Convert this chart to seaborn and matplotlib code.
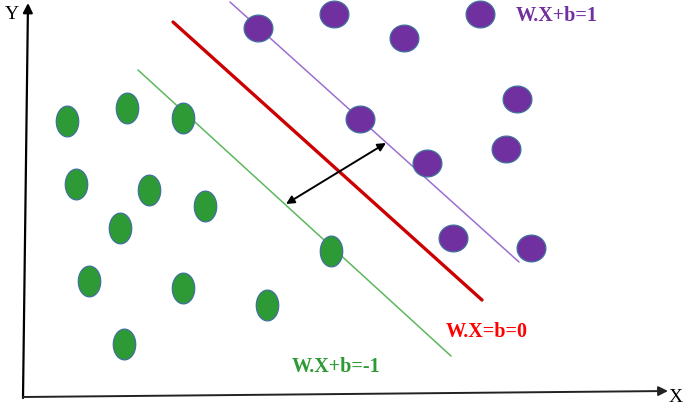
import numpy as np
import pandas as pd
import matplotlib
matplotlib.use("Agg")
import matplotlib.pyplot as plt
from matplotlib.path import Path
import seaborn as sns

# --- data (positions in the diagram's pixel-like coordinate space) ---
green_x = [67, 127, 183, 76, 149, 205, 120, 89, 183, 267, 124, 331]
green_y = [121, 108, 118, 184, 190, 206, 228, 281, 288, 305, 344, 251]
purple_x = [258, 334, 404, 480, 517, 360, 427, 506, 453, 531]
purple_y = [28, 14, 38, 14, 99, 119, 163, 149, 238, 248]

hyper_x = [173, 482]
hyper_y = [22, 300]
pos_x = [230, 519]
pos_y = [2, 262]
neg_x = [138, 451]
neg_y = [70, 356]
margin_x = [286, 386]
margin_y = [204, 143]

labels = ["W.X+b=1", "W.X=b=0", "W.X+b=-1"]
label_x = [516, 446, 292]
label_y = [16, 332, 367]

sns.set_theme(style="white")
plt.rcParams['font.family'] = ['Liberation Serif', 'DejaVu Serif']

fig = plt.figure(figsize=(6.85, 4.12), dpi=100)
ax = fig.add_axes([0, 0, 1, 1])
ax.set_xlim(0, 685)
ax.set_ylim(412, 0)
ax.axis("off")

# ellipse markers
t = np.linspace(0, 2 * np.pi, 60)
tall = Path(np.column_stack([0.73 * np.cos(t), np.sin(t)]), closed=True)
wide = Path(np.column_stack([np.cos(t), 0.93 * np.sin(t)]), closed=True)

# lines
sns.lineplot(x=pos_x, y=pos_y, ax=ax, color="#9b6fd0", lw=1.1, sort=False)
sns.lineplot(x=neg_x, y=neg_y, ax=ax, color="#5cb85c", lw=1.1, sort=False)
sns.lineplot(x=hyper_x, y=hyper_y, ax=ax, color="#cc0000", lw=2.4, sort=False)

# points
sns.scatterplot(x=green_x, y=green_y, ax=ax, marker=tall, s=490,
                color="#2e9a35", edgecolor="#41719c", linewidth=0.9, zorder=3)
sns.scatterplot(x=purple_x, y=purple_y, ax=ax, marker=wide, s=430,
                color="#7030a0", edgecolor="#41719c", linewidth=0.9, zorder=3)

# margin arrow
ax.annotate("", xy=(margin_x[1], margin_y[1]), xytext=(margin_x[0], margin_y[0]),
            arrowprops=dict(arrowstyle="<|-|>", color="black", lw=1.4,
                            mutation_scale=12, shrinkA=0, shrinkB=0))

# axes arrows
ax.annotate("", xy=(28, 3), xytext=(23, 398),
            arrowprops=dict(arrowstyle="-|>", color="black", lw=1.6,
                            mutation_scale=14, shrinkA=0, shrinkB=0))
ax.annotate("", xy=(668, 391), xytext=(23, 397),
            arrowprops=dict(arrowstyle="-|>", color="#222222", lw=1.4,
                            mutation_scale=14, shrinkA=0, shrinkB=0))
ax.text(12, 14, "Y", fontsize=14, ha="center", va="center", color="black")
ax.text(676, 398, "X", fontsize=14, ha="center", va="center", color="black")

colors = ["#7030a0", "#ff0000", "#2e9a35"]
for lab, lx, ly, c in zip(labels, label_x, label_y, colors):
    ax.text(lx, ly, lab, fontsize=14.5, fontweight="bold", color=c,
            ha="left", va="center")

fig.savefig("out.png", dpi=100)
